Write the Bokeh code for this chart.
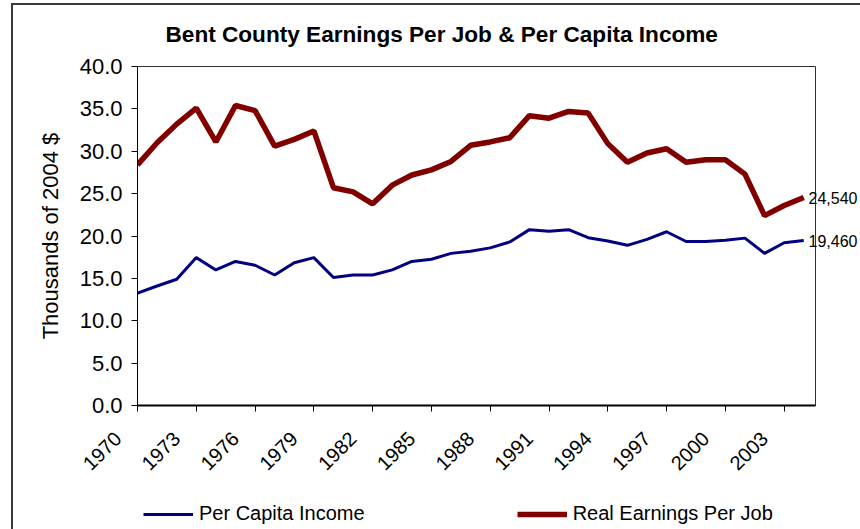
import math
from bokeh.plotting import figure
from bokeh.layouts import column
from bokeh.models import (FixedTicker, NumeralTickFormatter, Legend, LegendItem,
                          LinearAxis, Range1d, Div)
from bokeh.embed import file_html
from bokeh.resources import INLINE

# ---- data ----
years = list(range(1970, 2005))
earnings_per_job = [28.4, 31.0, 33.2, 35.1, 31.1, 35.4, 34.8, 30.6, 31.4, 32.4,
                    25.7, 25.2, 23.8, 26.0, 27.2, 27.8, 28.8, 30.7, 31.1, 31.6,
                    34.2, 33.9, 34.7, 34.5, 30.9, 28.7, 29.8, 30.3, 28.7, 29.0,
                    29.0, 27.3, 22.4, 23.6, 24.54]
per_capita_income = [13.25, 14.1, 14.9, 17.45, 16.0, 17.0, 16.55, 15.4, 16.85, 17.45,
                     15.1, 15.4, 15.4, 16.0, 17.0, 17.25, 17.95, 18.2, 18.6, 19.3,
                     20.75, 20.55, 20.75, 19.8, 19.4, 18.9, 19.6, 20.5, 19.35, 19.35,
                     19.5, 19.75, 17.95, 19.2, 19.46]
x_tick_years = years[::3]
x_tick_labels = [str(y) for y in x_tick_years]
y_ticks = [0, 5, 10, 15, 20, 25, 30, 35, 40]
series_names = ["Per Capita Income", "Real Earnings Per Job"]

FONT = "Liberation Sans"
RED = "#800000"
BLUE = "#000080"
NB = "\u00a0"

p = figure(width=860, height=498, output_backend="svg", toolbar_location=None,
           x_range=Range1d(years[0], years[-1] + 0.6), y_range=Range1d(0, y_ticks[-1]),
           min_border_left=137, min_border_right=42, min_border_top=65,
           min_border_bottom=93,
           title="Bent County Earnings Per Job & Per Capita Income")

p.title.align = "left"
p.title.offset = 28
p.title.standoff = 39
p.title.text_font = FONT
p.title.text_font_size = "22.6px"
p.title.text_font_style = "bold"
p.title.text_color = "black"

p.xgrid.visible = False
p.ygrid.visible = False
p.outline_line_color = "#303030"
p.outline_line_width = 1
p.background_fill_color = "white"
p.border_fill_color = "white"

blue_r = p.line(years, per_capita_income, line_color=BLUE, line_width=3)
red_r = p.line(years, earnings_per_job, line_color=RED, line_width=5.5)

# y axis
ya = p.yaxis[0]
ya.ticker = FixedTicker(ticks=y_ticks, minor_ticks=[])
ya.formatter = NumeralTickFormatter(format="0.0")
ya.axis_label = "Thousands of 2004 $"
ya.axis_label_text_font = FONT
ya.axis_label_text_font_size = "22px"
ya.axis_label_text_font_style = "normal"
ya.axis_label_text_color = "black"
ya.axis_label_standoff = 14
ya.major_label_text_font = FONT
ya.major_label_text_font_size = "22px"
ya.major_label_text_color = "black"
ya.major_label_standoff = 9
ya.major_tick_out = 6
ya.major_tick_in = 0
ya.axis_line_color = "black"
ya.major_tick_line_color = "black"

# x axis
xa = p.xaxis[0]
xa.ticker = FixedTicker(ticks=x_tick_years, minor_ticks=[])
xa.major_label_overrides = {yr: lab + NB * 5 for yr, lab in zip(x_tick_years, x_tick_labels)}
xa.major_label_orientation = math.pi / 4
xa.major_label_text_font = FONT
xa.major_label_text_font_size = "20px"
xa.major_label_text_color = "black"
xa.major_label_standoff = 4
xa.major_tick_out = 6
xa.major_tick_in = 0
xa.axis_line_width = 2
xa.axis_line_color = "black"
xa.major_tick_line_color = "black"

# end value labels as a right-hand axis in dollar units
p.extra_y_ranges = {"dollars": Range1d(0, y_ticks[-1] * 1000)}
end_values = [round(earnings_per_job[-1] * 1000), round(per_capita_income[-1] * 1000)]
ra = LinearAxis(y_range_name="dollars",
                ticker=FixedTicker(ticks=end_values, minor_ticks=[]),
                formatter=NumeralTickFormatter(format="0,0"),
                axis_line_color=None, major_tick_line_color=None,
                major_tick_in=0, major_tick_out=0, major_label_standoff=-7,
                major_label_text_font=FONT, major_label_text_font_size="16px",
                major_label_text_color="black")
p.add_layout(ra, "right")

# legend in its own strip below the chart (frames are aligned with the chart)
lg = figure(width=860, height=31, output_backend="svg", toolbar_location=None,
            x_range=Range1d(0, 1), y_range=Range1d(0, 1),
            x_axis_type=None, y_axis_type=None, min_border=0)
lg.xgrid.visible = False
lg.ygrid.visible = False
lg.outline_line_color = None
lg_blue = lg.line(years, per_capita_income, line_color=BLUE, line_width=3)
lg_red = lg.line(years, earnings_per_job, line_color=RED, line_width=5.5)
legend = Legend(items=[LegendItem(label=series_names[0], renderers=[lg_blue]),
                       LegendItem(label=series_names[1], renderers=[lg_red])],
                orientation="horizontal", location=(6, 4),
                glyph_width=50, glyph_height=16, label_standoff=6, spacing=152,
                padding=0, margin=0, border_line_color=None,
                background_fill_alpha=0, label_text_color="black",
                label_text_font=FONT, label_text_font_size="20px")
lg.add_layout(legend, "center")

frame_box = Div(text="", styles={"position": "absolute", "left": "6px", "top": "-2px",
                                  "width": "854px", "height": "531px",
                                  "border-left": "2px solid #3a3a3a",
                                  "border-top": "2px solid #3a3a3a",
                                  "box-sizing": "border-box",
                                  "pointer-events": "none", "z-index": "5"})

layout = column(p, lg, frame_box, spacing=0)
open("out.html", "w").write(file_html(layout, INLINE))
